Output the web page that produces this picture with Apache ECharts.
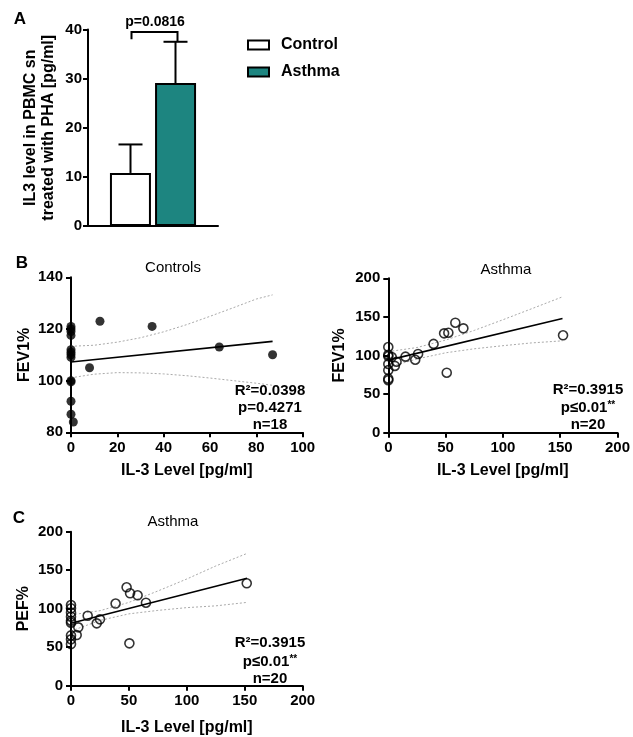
<!DOCTYPE html>
<html>
<head>
<meta charset="utf-8">
<script src="https://cdn.jsdelivr.net/npm/echarts@6/dist/echarts.min.js"></script>
<style>
html,body{margin:0;padding:0;background:#fff;}
#c{width:633px;height:737px;}
</style>
</head>
<body>
<div id="c"></div>
<script>
// ---------- Panel A data ----------
const barCategories = ['Control', 'Asthma'];
const barMeans = [10.8, 29.1];
const barErrors = [5.8, 8.4];
const pTextA = 'p=0.0816';
const bracketTop = 39.5;
const bracketLeftEnd = 38.0;

// ---------- Panel B (Controls) ----------
const ctrlX = [0,0,0,0,0,0,0,0,0,0,0,0, 1, 8, 12.5, 35, 64, 87];
const ctrlY = [121,120,119,117.5,112,111,110,109,100,92,87,99.5, 84, 105, 123, 121, 113, 110];
const ctrlFitX = [0, 87];
const ctrlFitY = [107.2, 115.2];
const ctrlBandX = [0,10,20,30,40,50,60,70,80,87];
const ctrlUpper = [113.3,113.7,114.9,116.6,118.9,121.7,124.9,128.2,131.6,133.2];
const ctrlLower = [101.1,102.5,103.1,103.0,102.6,101.9,101.0,100.0,99.0,98.2];

// ---------- Panel B (Asthma FEV1) ----------
const asFevX = [0,0,0,0,0,0,0, 3, 5.7, 7.2, 15, 23.5, 26, 39.5, 48.7, 52.4, 58.5, 65.5, 51, 152.5];
const asFevY = [111,101,99,89,81,70,68, 98, 86.5, 92, 98.5, 94.5, 102, 115, 128.7, 129.5, 142.5, 135.2, 77.7, 126.2];
const asFevFitX = [0, 152];
const asFevFitY = [94, 148];
const asFevBandX = [0,25,50,75,100,125,152];
const asFevUpper = [105,110.3,120,132.5,146.3,160.5,176];
const asFevLower = [84.7,95.5,103.5,108.7,112.7,116.3,119];

// ---------- Panel C (Asthma PEF) ----------
const pefX = [0,0,0,0,0,0,0,0,0, 6.3, 4.9, 14.4, 22.2, 25, 38.5, 48, 51, 57.5, 64.7, 50.4, 151.7];
const pefY = [104.8,100.5,95,89.6,84.4,81.9,65.3,60.2,54, 75.8, 65.8, 90.9, 81, 86.2, 106.7, 127.8, 120, 117.4, 107.8, 55, 133];
const pefFitX = [0, 152];
const pefFitY = [81, 139.5];
const pefBandX = [0,25,50,75,100,125,152];
const pefUpper = [92,97.4,108.2,123,138.6,155.5,171.8];
const pefLower = [71,84.8,93.3,97.8,101.4,103.7,108.2];

// ---------- Text ----------
const statsCtrl = ['R²=0.0398', 'p=0.4271', 'n=18'];
const statsFev = ['R²=0.3915', 'p≤0.01{s|**}', 'n=20'];
const statsPef = ['R²=0.3915', 'p≤0.01{s|**}', 'n=20'];

const zip = (xs, ys) => xs.map((x, i) => [x, ys[i]]);
const FONT = '"Liberation Sans", Arial, sans-serif';
const TEAL = '#1d8580';

const chart = echarts.init(document.getElementById('c'), null, {renderer: 'canvas'});

const axisLine = {show: true, lineStyle: {color: '#000', width: 2}};
const axisTick = {show: true, inside: false, length: 5, lineStyle: {color: '#000', width: 2}};
const lbl = {color: '#000', fontSize: 15, fontWeight: 'bold', fontFamily: FONT};
const nameStyle = {color: '#000', fontSize: 16, fontWeight: 'bold', fontFamily: FONT};

function valX(gi, max, interval, name, gap) {
  return {type: 'value', gridIndex: gi, min: 0, max: max, interval: interval,
    axisLine: axisLine, axisTick: axisTick, splitLine: {show: false},
    axisLabel: Object.assign({margin: 8}, lbl),
    name: name, nameLocation: 'middle', nameGap: gap, nameTextStyle: nameStyle};
}
function valY(gi, min, max, interval, name, gap) {
  return {type: 'value', gridIndex: gi, min: min, max: max, interval: interval,
    axisLine: axisLine, axisTick: axisTick, splitLine: {show: false},
    axisLabel: Object.assign({margin: 8}, lbl),
    name: name, nameLocation: 'middle', nameGap: gap, nameRotate: 90, nameTextStyle: nameStyle};
}

function scatterSet(xi, pts, fit, up, low, filled) {
  return [
    {type: 'line', xAxisIndex: xi, yAxisIndex: xi, data: up, showSymbol: false, silent: true,
      lineStyle: {color: '#aaa', width: 1, type: [2, 2]}, z: 2},
    {type: 'line', xAxisIndex: xi, yAxisIndex: xi, data: low, showSymbol: false, silent: true,
      lineStyle: {color: '#aaa', width: 1, type: [2, 2]}, z: 2},
    {type: 'line', xAxisIndex: xi, yAxisIndex: xi, data: fit, showSymbol: false, silent: true,
      lineStyle: {color: '#000', width: 1.6}, z: 3},
    {type: 'scatter', xAxisIndex: xi, yAxisIndex: xi, data: pts, symbol: 'circle', symbolSize: 9,
      itemStyle: filled ? {color: '#000'} : {color: 'rgba(255,255,255,0)', borderColor: '#000', borderWidth: 1.6}, z: 4}
  ];
}

function statText(lines, cx, ys) {
  return lines.map((t, i) => ({
    type: 'text', x: cx, y: ys[i],
    style: {text: t, fill: '#000', font: 'bold 15px ' + FONT, align: 'center', verticalAlign: 'middle',
      rich: {s: {fontSize: 10, fontWeight: 'bold', fontFamily: FONT, verticalAlign: 'top', padding: [0, 0, 6, 0]}}}
  }));
}
function plainText(t, x, y, font) {
  return {type: 'text', x: x, y: y, style: {text: t, fill: '#000', font: font, align: 'center', verticalAlign: 'middle'}};
}

const errorOffset = 22.5;

const option = {
  animation: false,
  backgroundColor: '#fff',
  grid: [
    {left: 88, top: 29.5, width: 130, height: 196.5},
    {left: 71, top: 277.3, width: 231.7, height: 155},
    {left: 388.3, top: 278.3, width: 232.7, height: 154.4},
    {left: 71, top: 531.7, width: 231.7, height: 154}
  ],
  legend: {
    data: barCategories, left: 247, top: 37, orient: 'vertical', icon: 'rect',
    itemWidth: 21, itemHeight: 9, itemGap: 11, padding: 0,
    textStyle: {color: '#000', fontSize: 16, fontWeight: 'bold', fontFamily: FONT, padding: [0, 0, 0, 7]}
  },
  xAxis: [
    {type: 'category', gridIndex: 0, data: [''], axisLine: axisLine, axisTick: {show: false}, axisLabel: {show: false}},
    valX(1, 100, 20, 'IL-3 Level [pg/ml]', 30),
    valX(2, 200, 50, 'IL-3 Level [pg/ml]', 30),
    valX(3, 200, 50, 'IL-3 Level [pg/ml]', 34)
  ],
  yAxis: [
    Object.assign(valY(0, 0, 40, 10, 'IL3 level in PBMC sn\ntreated with PHA [pg/ml]', 30),
      {axisLabel: Object.assign({margin: 6}, lbl), nameTextStyle: Object.assign({lineHeight: 18}, nameStyle)}),
    valY(1, 80, 140, 20, 'FEV1%', 38),
    valY(2, 0, 200, 50, 'FEV1%', 41),
    valY(3, 0, 200, 50, 'PEF%', 39)
  ],
  series: [
    {type: 'bar', name: barCategories[0], xAxisIndex: 0, yAxisIndex: 0, data: [barMeans[0]],
      barWidth: 41, barGap: '10%', itemStyle: {color: '#fff', borderColor: '#000', borderWidth: 2}},
    {type: 'bar', name: barCategories[1], xAxisIndex: 0, yAxisIndex: 0, data: [barMeans[1]],
      barWidth: 41, barGap: '10%', itemStyle: {color: TEAL, borderColor: '#000', borderWidth: 2}},
    {type: 'custom', xAxisIndex: 0, yAxisIndex: 0, z: 5, silent: true,
      data: barMeans.map((m, i) => [0, m, m + barErrors[i]]),
      renderItem: function (params, api) {
        const i = params.dataIndex;
        const p0 = api.coord([0, api.value(1)]);
        const p1 = api.coord([0, api.value(2)]);
        const x = p0[0] + (i === 0 ? -errorOffset : errorOffset);
        const st = {stroke: '#000', lineWidth: 2};
        return {type: 'group', children: [
          {type: 'line', shape: {x1: x, y1: p0[1], x2: x, y2: p1[1]}, style: st},
          {type: 'line', shape: {x1: x - 12, y1: p1[1], x2: x + 12, y2: p1[1]}, style: st}
        ]};
      }},
    {type: 'custom', xAxisIndex: 0, yAxisIndex: 0, z: 5, silent: true,
      data: [[0, bracketTop, bracketLeftEnd, barMeans[1] + barErrors[1]]],
      renderItem: function (params, api) {
        const top = api.coord([0, api.value(1)]);
        const l = api.coord([0, api.value(2)]);
        const r = api.coord([0, api.value(3)]);
        const xl = top[0] - errorOffset + 1, xr = top[0] + errorOffset + 2;
        const st = {stroke: '#000', lineWidth: 2, fill: null};
        return {type: 'polyline', shape: {points: [[xl, l[1]], [xl, top[1]], [xr, top[1]], [xr, r[1]]]}, style: st};
      }}
  ].concat(
    scatterSet(1, zip(ctrlX, ctrlY), zip(ctrlFitX, ctrlFitY), zip(ctrlBandX, ctrlUpper), zip(ctrlBandX, ctrlLower), true),
    scatterSet(2, zip(asFevX, asFevY), zip(asFevFitX, asFevFitY), zip(asFevBandX, asFevUpper), zip(asFevBandX, asFevLower), false),
    scatterSet(3, zip(pefX, pefY), zip(pefFitX, pefFitY), zip(pefBandX, pefUpper), zip(pefBandX, pefLower), false)
  ),
  graphic: [
    plainText('A', 20, 19, 'bold 17px ' + FONT),
    plainText('B', 22, 263, 'bold 17px ' + FONT),
    plainText('C', 19, 518, 'bold 17px ' + FONT),
    plainText(pTextA, 155, 22, 'bold 14px ' + FONT),
    plainText('Controls', 173, 268, '15px ' + FONT),
    plainText('Asthma', 506, 270, '15px ' + FONT),
    plainText('Asthma', 173, 521.5, '15px ' + FONT)
  ].concat(
    statText(statsCtrl, 270, [391, 408, 425]),
    statText(statsFev, 588, [390, 408, 425]),
    statText(statsPef, 270, [643, 662, 679])
  )
};

chart.setOption(option);
</script>
</body>
</html>
